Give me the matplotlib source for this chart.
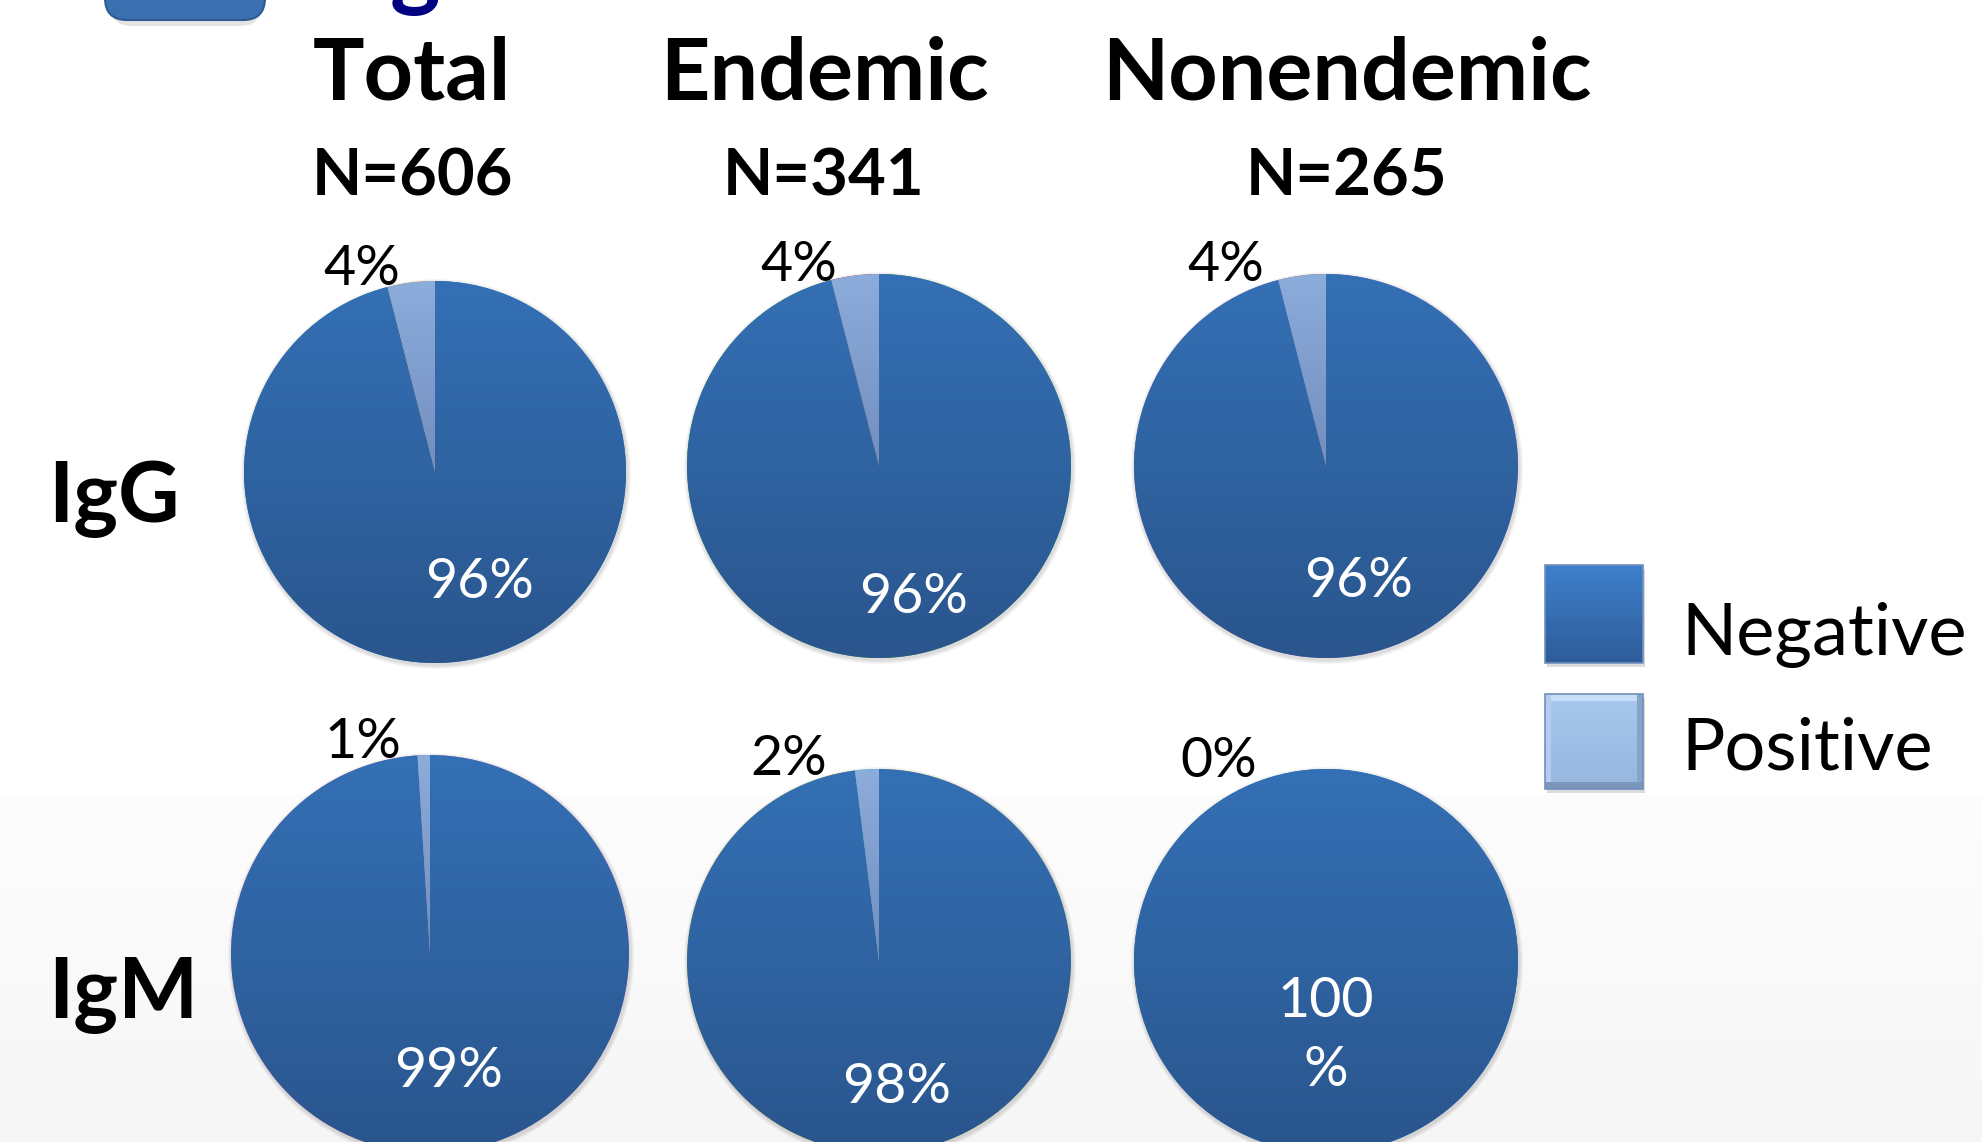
import numpy as np
import matplotlib.pyplot as plt
from matplotlib.patches import Rectangle, FancyBboxPatch, Circle

# data
groups = ['Total', 'Endemic', 'Nonendemic']
group_n = [606, 341, 265]
antibodies = ['IgG', 'IgM']
categories = ['Negative', 'Positive']
igg_negative = [96, 96, 96]
igg_positive = [4, 4, 4]
igm_negative = [99, 98, 100]
igm_positive = [1, 2, 0]

W, H = 1982, 1142
plt.rcParams['font.family'] = ['Lato', 'DejaVu Sans']


def Y(y):
    # pixel row (from top) -> data y
    return H - y


def vgrad(c_top, c_bot, n=256):
    t = np.linspace(0, 1, n)[:, None]
    a = np.array(c_top) / 255
    b = np.array(c_bot) / 255
    return (a * (1 - t) + b * t)[:, None, :]


# layout (pixels, y from top)
pie_centers = [[(435, 472), (879, 466), (1326, 466)],
               [(430, 954), (879, 961), (1326, 961)]]
pie_radius = [[191, 192, 192], [199, 192, 192]]
pos_label_off = [[(-73, -187), (-80, -185), (-100, -185)],
                 [(-67, -196), (-90, -186), (-107, -184)]]
neg_label_off = [[(45, 126), (35, 147), (33, 131)],
                 [(19, 133), (18, 142), (0, 75)]]
head_x = [412, 824, 1347]
row_label_y = [522, 1017]

neg_grad = ((52, 112, 181), (42, 85, 141))
pos_grad = ((140, 172, 220), (88, 112, 158))

fig = plt.figure(figsize=(W / 100, H / 100), dpi=100)
ax = fig.add_axes([0, 0, 1, 1])

# slide background
bg = np.ones((H, 1, 3))
rows = np.arange(H)
shade = np.where(rows < 795, 1.0, 0.992 - (rows - 795) / (H - 795) * 0.028)
bg[:, 0, :] = shade[:, None]
ax.imshow(bg, extent=(0, W, 0, H), aspect='auto', zorder=0)

# cut-off title bits at the top of the slide
ax.add_patch(FancyBboxPatch((110, Y(26)), 152, 80, boxstyle='round,pad=0,rounding_size=22',
                            fc='#888888', ec='none', alpha=0.22, zorder=1))
ax.add_patch(FancyBboxPatch((105, Y(20)), 160, 80, boxstyle='round,pad=0,rounding_size=22',
                            fc='#3a6fb0', ec='#2f5b94', lw=1.5, zorder=2))
ax.text(390, Y(-1), 'g', fontsize=69, fontweight='bold', color='#000080',
        ha='left', va='baseline', zorder=3)

values = [(igg_negative, igg_positive), (igm_negative, igm_positive)]
for r, (neg, pos) in enumerate(values):
    for c in range(3):
        cx, cy = pie_centers[r][c]
        rad = pie_radius[r][c]
        for k in range(1, 5):
            ax.add_patch(Circle((cx + 1, Y(cy) - 2), rad + k, color='k', alpha=0.035, lw=0, zorder=1))
        wedges, _ = ax.pie([neg[c], pos[c]], center=(cx, Y(cy)), radius=rad,
                           startangle=90, counterclock=False, frame=True,
                           wedgeprops=dict(linewidth=0))
        for w, (ct, cb) in zip(wedges, [neg_grad, pos_grad]):
            im = ax.imshow(vgrad(ct, cb), extent=(cx - rad, cx + rad, Y(cy) - rad, Y(cy) + rad),
                           aspect='auto', zorder=2, interpolation='bilinear')
            im.set_clip_path(w)
        # labels
        dx, dy = pos_label_off[r][c]
        ax.text(cx + dx, Y(cy + dy), f'{pos[c]}%', fontsize=40, color='black',
                ha='center', va='baseline', zorder=4)
        dx, dy = neg_label_off[r][c]
        if neg[c] == 100:
            ax.text(cx + dx, Y(cy + dy), f'{neg[c]}\n%', fontsize=40, color='white',
                    ha='center', va='center', linespacing=1.45, zorder=4)
        else:
            ax.text(cx + dx, Y(cy + dy), f'{neg[c]}%', fontsize=40, color='white',
                    ha='center', va='baseline', zorder=4)

# column headings
for x, g, n in zip(head_x, groups, group_n):
    ax.text(x, Y(100), g, fontsize=62, fontweight='bold', ha='center', va='baseline')
    ax.text(x, Y(195), f'N={n}', fontsize=47, fontweight='bold', ha='center', va='baseline')

# row labels
for y, lab in zip(row_label_y, antibodies):
    ax.text(48, Y(y), lab, fontsize=61, fontweight='bold', ha='left', va='baseline')

# legend
leg_y = [(565, 663), (694, 789)]
leg_text_y = [655, 770]
leg_grads = [((62, 128, 204), (46, 92, 152)), ((168, 200, 238), (150, 182, 222))]
for i, ((y0, y1), ty, cat, gr) in enumerate(zip(leg_y, leg_text_y, categories, leg_grads)):
    ax.add_patch(Rectangle((1547, Y(y1) - 4), 98, y1 - y0, fc='#999999', alpha=0.35, lw=0, zorder=1))
    ax.imshow(vgrad(*gr), extent=(1545, 1643, Y(y1), Y(y0)), aspect='auto', zorder=2)
    if i == 1:
        # bevel edges on the positive swatch
        ax.add_patch(Rectangle((1545, Y(y0) - 7), 98, 7, fc='#c8def7', lw=0, zorder=3))
        ax.add_patch(Rectangle((1545, Y(y1)), 6, y1 - y0, fc='#b4cdec', lw=0, zorder=3))
        ax.add_patch(Rectangle((1637, Y(y1)), 6, y1 - y0, fc='#86a3c8', lw=0, zorder=3))
        ax.add_patch(Rectangle((1545, Y(y1)), 98, 7, fc='#7b96b8', lw=0, zorder=3))
    ax.add_patch(Rectangle((1545, Y(y1)), 98, y1 - y0, fc='none', ec='#6f8fbf', lw=1.2, zorder=4))
    ax.text(1681, Y(ty), cat, fontsize=52, ha='left', va='baseline', zorder=3)

ax.set_xlim(0, W)
ax.set_ylim(0, H)
ax.set_aspect('auto')
ax.axis('off')

fig.savefig('out.png', dpi=100)
